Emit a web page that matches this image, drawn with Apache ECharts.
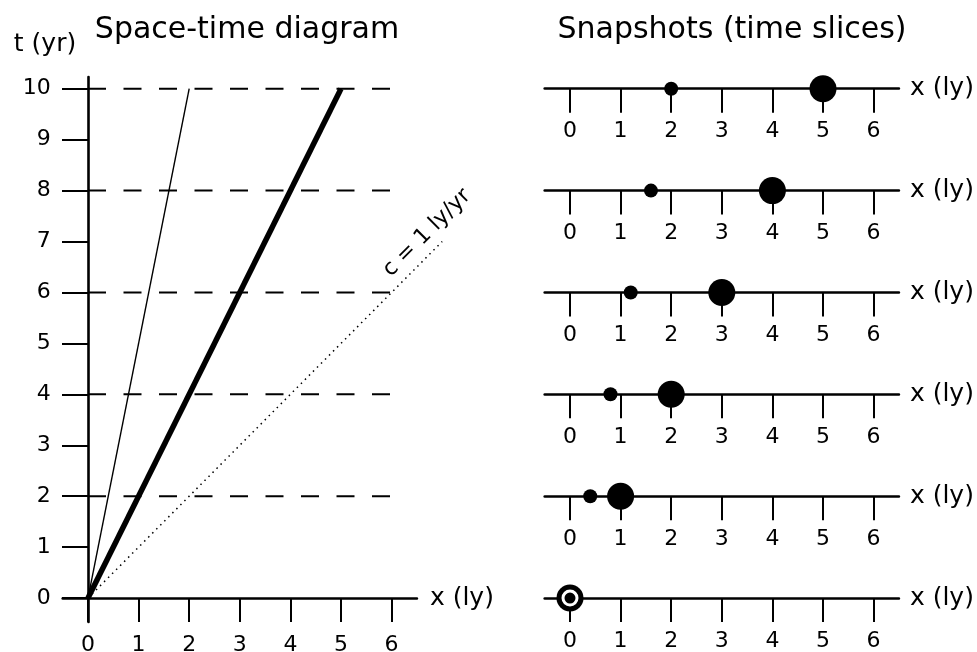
<!DOCTYPE html>
<html>
<head>
<meta charset="utf-8">
<script src="https://cdn.jsdelivr.net/npm/echarts@6/dist/echarts.min.js"></script>
<style>
html,body{margin:0;padding:0;background:#fff;}
#c{width:977px;height:652px;}
</style>
</head>
<body>
<div id="c"></div>
<script>
// ---- data ----
const times = [10, 8, 6, 4, 2, 0];            // snapshot times (yr)
const slowX = [2, 1.6, 1.2, 0.8, 0.4, 0];     // small dot position (ly)
const fastX = [5, 4, 3, 2, 1, 0];             // big dot position (ly)
const xTicks = [0, 1, 2, 3, 4, 5, 6];
const tTicks = [0, 1, 2, 3, 4, 5, 6, 7, 8, 9, 10];
const dashTimes = [2, 4, 6, 8, 10];
const dashXRange = [0, 6];
const slowLine = [[0, 0], [2, 10]];
const fastLine = [[0, 0], [5, 10]];
const lightLine = [[0, 0], [7, 7]];
const lightLabelPos = [6.7, 7.17];
const lightLabelText = 'c = 1 ly/yr';
const titles = ['Space-time diagram', 'Snapshots (time slices)'];
const xName = 'x (ly)';
const tName = 't (yr)';

// ---- layout ----
const FONT = 'DejaVu Sans';
const X_MIN = -0.5, X_MAX = 6.5, T_MIN = -0.47, T_MAX = 10.23;
const leftGrid = {left: 62.7, top: 77, width: 354.2, height: 545};
const rightLeft = 544.7;
const pxPerX = leftGrid.width / (X_MAX - X_MIN);
const pxPerT = leftGrid.height / (T_MAX - T_MIN);
const originY = leftGrid.top + T_MAX * pxPerT;
const X_MAX_EXT = 7.5;

const grids = [], xAxes = [], yAxes = [], series = [];

function xAxisBase(gi, nameGap) {
  return {
    type: 'value', gridIndex: gi, min: X_MIN, max: X_MAX,
    name: xName, nameLocation: 'end', nameGap: nameGap,
    nameTextStyle: {fontFamily: FONT, fontSize: 25, color: '#000', verticalAlign: 'middle', align: 'left'},
    axisLine: {show: true, onZero: true, lineStyle: {color: '#000', width: 2.6}},
    axisTick: {show: true, length: 24, inside: false, customValues: xTicks, lineStyle: {color: '#000', width: 2}},
    axisLabel: {show: true, margin: 12, customValues: xTicks, fontFamily: FONT, fontSize: 22, color: '#000'},
    splitLine: {show: false}
  };
}

// left grid (index 0)
grids.push(Object.assign({outerBoundsMode: 'none', containLabel: false}, leftGrid));
xAxes.push(xAxisBase(0, 13));
yAxes.push({
  type: 'value', gridIndex: 0, min: T_MIN, max: T_MAX,
  axisLine: {show: true, onZero: true, lineStyle: {color: '#000', width: 2.6}},
  axisTick: {show: true, length: 26, customValues: tTicks, lineStyle: {color: '#000', width: 2}},
  axisLabel: {show: true, margin: 12, customValues: tTicks, fontFamily: FONT, fontSize: 22, color: '#000'},
  splitLine: {show: false}
});

// overlay grid (index 1) with same scale, wider extent, for the light line
grids.push({outerBoundsMode: 'none', containLabel: false, left: leftGrid.left, top: leftGrid.top,
  width: pxPerX * (X_MAX_EXT - X_MIN), height: leftGrid.height});
xAxes.push({type: 'value', gridIndex: 1, min: X_MIN, max: X_MAX_EXT, show: false});
yAxes.push({type: 'value', gridIndex: 1, min: T_MIN, max: T_MAX, show: false});

dashTimes.forEach(t => {
  series.push({
    type: 'line', xAxisIndex: 0, yAxisIndex: 0, symbol: 'none', silent: true, z: 1,
    data: [[dashXRange[0], t], [dashXRange[1], t]],
    lineStyle: {color: '#000', width: 2, type: [18, 17.5]}
  });
});
series.push({type: 'line', xAxisIndex: 1, yAxisIndex: 1, symbol: 'none', data: lightLine,
  lineStyle: {color: '#000', width: 1.5, type: [1.5, 4.2]}, z: 2});
series.push({type: 'line', xAxisIndex: 0, yAxisIndex: 0, symbol: 'none', data: slowLine,
  lineStyle: {color: '#000', width: 1.4}, z: 3});
series.push({type: 'line', xAxisIndex: 0, yAxisIndex: 0, symbol: 'none', data: fastLine,
  lineStyle: {color: '#000', width: 5.5}, z: 4});
series.push({type: 'scatter', xAxisIndex: 1, yAxisIndex: 1, symbolSize: 0, z: 5,
  itemStyle: {opacity: 1},
  data: [{value: lightLabelPos, label: {show: true, position: 'inside', formatter: lightLabelText,
    rotate: 45, fontFamily: FONT, fontSize: 22, color: '#000', opacity: 1}}]});

// right snapshot grids
times.forEach((t, i) => {
  const gi = i + 2;
  const lineY = originY - t * pxPerT;
  grids.push({outerBoundsMode: 'none', containLabel: false, left: rightLeft, width: leftGrid.width, top: lineY - 20, height: 40});
  xAxes.push(xAxisBase(gi, 11));
  yAxes.push({type: 'value', gridIndex: gi, min: -1, max: 1, show: false});
  series.push({type: 'scatter', xAxisIndex: gi, yAxisIndex: gi, symbolSize: 27, z: 3, clip: false,
    itemStyle: {color: '#000', opacity: 1}, data: [[fastX[i], 0]]});
  const small = {value: [slowX[i], 0]};
  if (slowX[i] === fastX[i]) small.itemStyle = {borderColor: '#fff', borderWidth: 3};
  series.push({type: 'scatter', xAxisIndex: gi, yAxisIndex: gi, symbolSize: 14, z: 4, clip: false,
    itemStyle: {color: '#000', opacity: 1}, data: [small]});
});

const option = {
  backgroundColor: '#fff',
  animation: false,
  title: [
    {text: titles[0], left: 242, top: 10, textAlign: 'center', textStyle: {fontFamily: FONT, fontSize: 30, fontWeight: 'normal', color: '#000'}},
    {text: titles[1], left: 727, top: 10, textAlign: 'center', textStyle: {fontFamily: FONT, fontSize: 30, fontWeight: 'normal', color: '#000'}},
    {text: tName, left: 40, top: 27, textAlign: 'center', textStyle: {fontFamily: FONT, fontSize: 25, fontWeight: 'normal', color: '#000'}}
  ],
  grid: grids, xAxis: xAxes, yAxis: yAxes, series: series
};
const chart = echarts.init(document.getElementById('c'), null, {renderer: 'canvas'});
chart.setOption(option);
</script>
</body>
</html>
